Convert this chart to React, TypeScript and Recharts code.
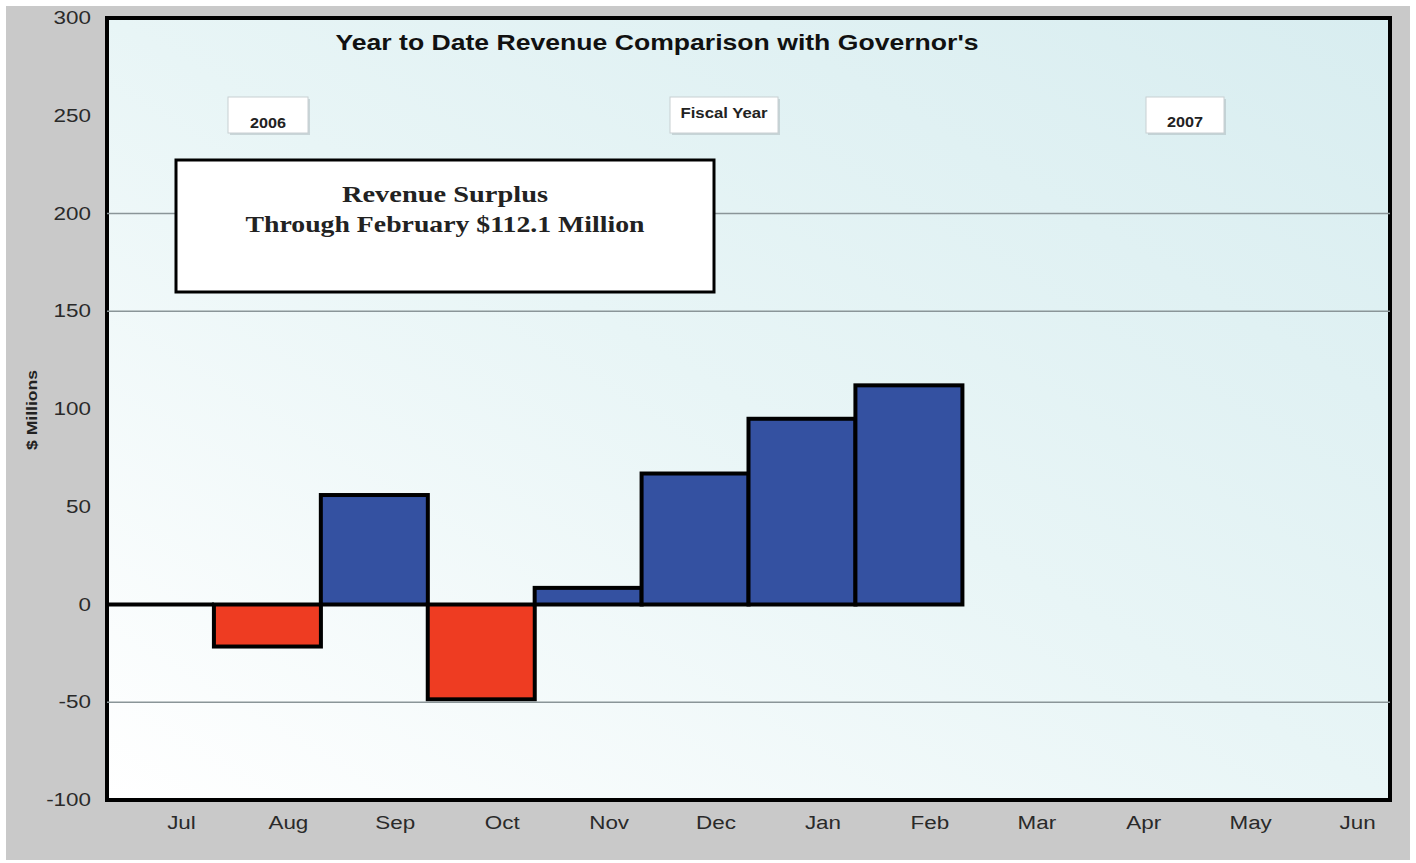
import { BarChart, Bar, Cell, XAxis, YAxis, CartesianGrid, ReferenceLine, ReferenceArea } from 'recharts';

const months = ['Jul', 'Aug', 'Sep', 'Oct', 'Nov', 'Dec', 'Jan', 'Feb', 'Mar', 'Apr', 'May', 'Jun'];
const surplus = [0, -21.5, 56, -48.5, 8.5, 67, 95, 112.1, null, null, null, null];
const yTicks = [-100, -50, 0, 50, 100, 150, 200, 250, 300];
const gridValues = [200, 150, -50];

const data = months.map((m, i) => ({ month: m, surplus: surplus[i] }));

const BLUE = '#3451a1';
const RED = '#ee3c22';
const SANS = 'Liberation Sans, Arial, sans-serif';
const SERIF = 'Liberation Serif, DejaVu Serif, serif';

// zero-height bar (Jul) shows as a flat black line
const BarShape = (props: any) => {
  const { x, y, width, height, fill } = props;
  if (width == null || y == null) return null;
  if (!height) {
    return <line x1={x} x2={x + width} y1={y} y2={y} stroke="#000" strokeWidth={4} />;
  }
  const top = height < 0 ? y + height : y;
  return <rect x={x} y={top} width={width} height={Math.abs(height)} fill={fill} stroke="#000" strokeWidth={4} />;
};

// original labels look a bit stretched sideways
const XTick = ({ x, y, payload }: any) => (
  <text transform={`translate(${x + 21},${y + 21}) scale(1.18,1)`} textAnchor="middle" fontSize={19} fill="#2a2a2a" fontFamily={SANS}>
    {payload.value}
  </text>
);

const YTick = ({ x, y, payload }: any) => (
  <text transform={`translate(${x},${y + 6}) scale(1.18,1)`} textAnchor="end" fontSize={19} fill="#2a2a2a" fontFamily={SANS}>
    {payload.value}
  </text>
);

const smallBox = (x: number, w: number, label: string, ty: number, tl: number) => (
  <g>
    <rect x={x + 2} y={99} width={w} height={36} fill="#aab6ba" opacity={0.5} />
    <rect x={x} y={97} width={w} height={36} fill="#fff" stroke="#c8cfd2" strokeWidth={1} />
    <text x={x + w / 2} y={ty} textAnchor="middle" fontSize={14} fontWeight="bold" fill="#222" fontFamily={SANS} textLength={tl} lengthAdjust="spacingAndGlyphs">
      {label}
    </text>
  </g>
);

const Overlay = () => (
  <svg width={1416} height={863} style={{ position: 'absolute', left: 0, top: 0, pointerEvents: 'none' }}>
    <text x={657} y={50} textAnchor="middle" fontSize={22} fontWeight="bold" fill="#111" fontFamily={SANS} textLength={643} lengthAdjust="spacingAndGlyphs">
      Year to Date Revenue Comparison with Governor's
    </text>
    {smallBox(228, 80, '2006', 128, 36)}
    {smallBox(670, 108, 'Fiscal Year', 118, 87)}
    {smallBox(1146, 78, '2007', 127, 36)}
    <rect x={176} y={160} width={538} height={132} fill="#fff" stroke="#000" strokeWidth={3} />
    <text x={445} y={202} textAnchor="middle" fontSize={24} fontWeight="bold" fill="#222" fontFamily={SERIF} textLength={206} lengthAdjust="spacingAndGlyphs">
      Revenue Surplus
    </text>
    <text x={445} y={232} textAnchor="middle" fontSize={24} fontWeight="bold" fill="#222" fontFamily={SERIF} textLength={399} lengthAdjust="spacingAndGlyphs">
      Through February $112.1 Million
    </text>
    <text
      x={37}
      y={410}
      transform="rotate(-90 37 410)"
      textAnchor="middle"
      fontSize={15}
      fontWeight="bold"
      fill="#222"
      fontFamily={SANS}
      textLength={80}
      lengthAdjust="spacingAndGlyphs"
    >
      $ Millions
    </text>
  </svg>
);

export default function App() {
  return (
    <div style={{ position: 'absolute', left: 0, top: 0, width: 1416, height: 863, background: '#fff' }}>
      <div style={{ position: 'absolute', left: 6, top: 6, width: 1404, height: 854, background: '#c9c9c9' }} />
      <svg width={0} height={0} style={{ position: 'absolute' }}>
        <defs>
          <linearGradient id="plotBg" x1="0" y1="1" x2="1" y2="0">
            <stop offset="0" stopColor="#ffffff" />
            <stop offset="0.5" stopColor="#e8f5f6" />
            <stop offset="1" stopColor="#d8edf0" />
          </linearGradient>
        </defs>
      </svg>
      <div style={{ position: 'absolute', left: 0, top: 0 }}>
        <BarChart
          width={1416}
          height={863}
          data={data}
          margin={{ top: 18, right: 26, bottom: 23, left: 0 }}
          barCategoryGap={0}
          barGap={0}
        >
          <CartesianGrid horizontal={false} vertical={false} fill="url(#plotBg)" />
          {gridValues.map((v) => (
            <ReferenceLine key={v} y={v} stroke="#8a9598" strokeWidth={1.5} />
          ))}
          <XAxis dataKey="month" height={40} tickLine={false} axisLine={false} tick={<XTick />} interval={0} />
          <YAxis
            width={107}
            domain={[-100, 300]}
            ticks={yTicks}
            tickLine={false}
            axisLine={false}
            tickMargin={10}
            tick={<YTick />}
          />
          <ReferenceArea y1={-100} y2={300} fill="none" stroke="#000" strokeWidth={4} fillOpacity={0} />
          <Bar dataKey="surplus" shape={<BarShape />} isAnimationActive={false}>
            {data.map((d, i) => (
              <Cell key={i} fill={(d.surplus ?? 0) < 0 ? RED : BLUE} />
            ))}
          </Bar>
        </BarChart>
      </div>
      <Overlay />
    </div>
  );
}
